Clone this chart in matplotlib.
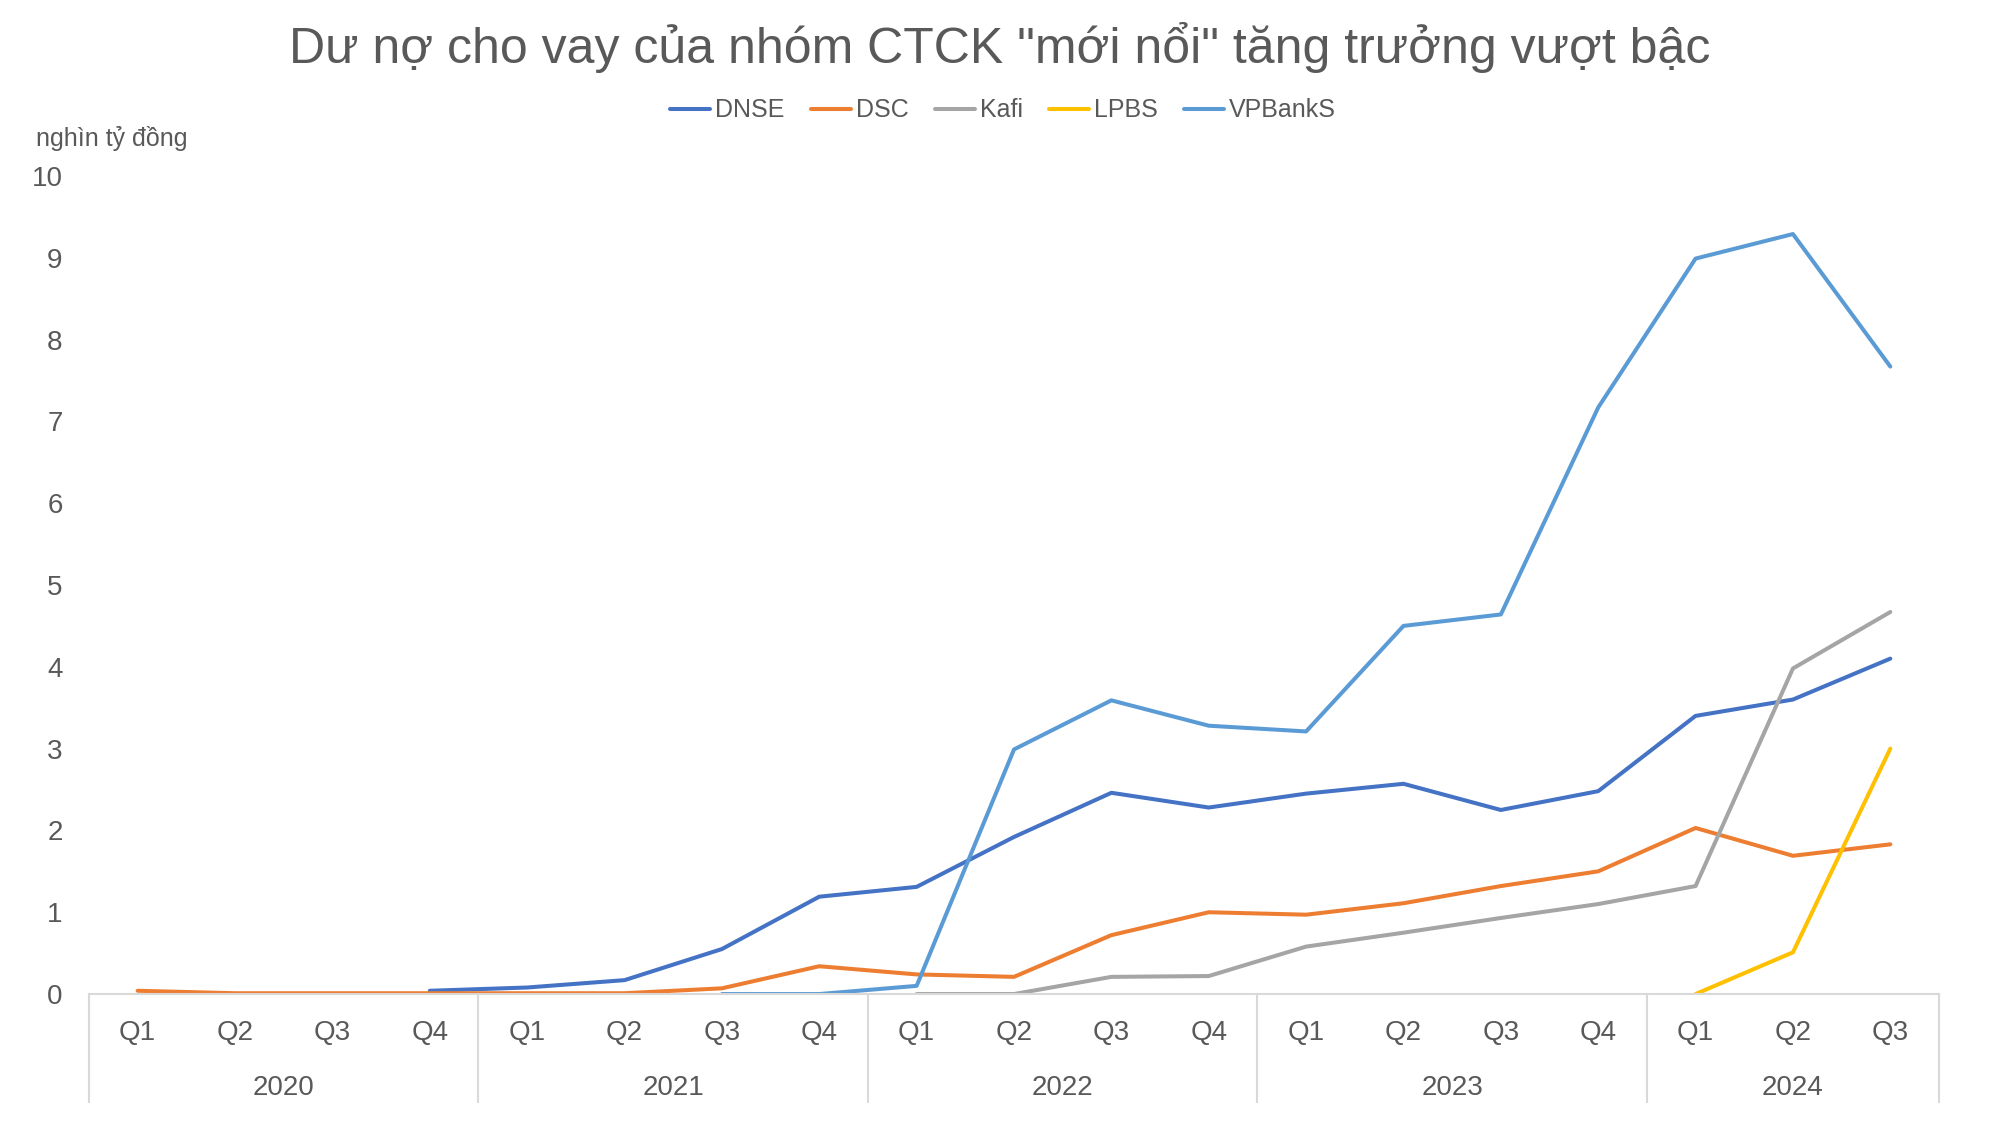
import numpy as np
import matplotlib
matplotlib.use("Agg")
from matplotlib import pyplot as plt

# Chart data (nghin ty dong)
years = ["2020", "2021", "2022", "2023", "2024"]
quarters_per_year = [4, 4, 4, 4, 3]
quarter_labels = ["Q1", "Q2", "Q3", "Q4"] * 4 + ["Q1", "Q2", "Q3"]

nan = np.nan
dnse = [nan, nan, nan, 0.04, 0.08, 0.17, 0.55, 1.19, 1.31, 1.92,
        2.46, 2.28, 2.45, 2.57, 2.25, 2.48, 3.40, 3.60, 4.10]
dsc = [0.04, 0.01, 0.01, 0.01, 0.01, 0.01, 0.07, 0.34, 0.24, 0.21,
       0.72, 1.00, 0.97, 1.11, 1.32, 1.50, 2.03, 1.69, 1.83]
kafi = [nan, nan, nan, nan, nan, nan, nan, nan, 0.0, 0.0,
        0.21, 0.22, 0.58, 0.75, 0.93, 1.10, 1.32, 3.98, 4.67]
lpbs = [nan] * 16 + [0.0, 0.51, 3.00]
vpbanks = [nan, nan, nan, nan, nan, nan, 0.0, 0.0, 0.10, 2.99,
           3.59, 3.28, 3.21, 4.50, 4.64, 7.17, 8.99, 9.29, 7.67]

series_names = ["DNSE", "DSC", "Kafi", "LPBS", "VPBankS"]
series_values = [dnse, dsc, kafi, lpbs, vpbanks]
series_colors = ["#4472C4", "#ED7D31", "#A5A5A5", "#FFC000", "#5B9BD5"]

text_color = "#595959"
line_gray = "#D9D9D9"

plt.rcParams["font.family"] = ["Liberation Sans", "DejaVu Sans"]

fig = plt.figure(figsize=(20, 11.25), dpi=100)
ax = fig.add_axes([0.0445, 0.1164, 0.925, 0.7272])

x = np.arange(len(quarter_labels))
for name, vals, col in zip(series_names, series_values, series_colors):
    ax.plot(x, vals, color=col, lw=2.9, label=name,
            solid_capstyle="round", solid_joinstyle="round")

# axes look (Excel style)
ax.set_xlim(-0.5, len(quarter_labels) - 0.5)
ax.set_ylim(0, 10)
ax.set_yticks(range(0, 11))
for side in ["left", "right", "top"]:
    ax.spines[side].set_visible(False)
ax.spines["bottom"].set_color(line_gray)
ax.spines["bottom"].set_linewidth(1.5)
ax.tick_params(axis="y", length=0, pad=19, labelsize=20, labelcolor=text_color)
ax.set_xticks(x)
ax.set_xticklabels(quarter_labels)
ax.tick_params(axis="x", length=0, pad=19, labelsize=20, labelcolor=text_color)

# year groups under the quarter labels, with separator lines
trans = ax.get_xaxis_transform()
edge = -0.5
for year, n in zip(years, quarters_per_year):
    ax.plot([edge, edge], [0, -0.132], transform=trans, color=line_gray,
            lw=1.5, clip_on=False)
    ax.text(edge + n / 2, -0.1235, year, transform=trans, ha="center",
            va="baseline", fontsize=20, color=text_color)
    edge += n
ax.plot([edge, edge], [0, -0.132], transform=trans, color=line_gray,
        lw=1.5, clip_on=False)

# title, unit label and legend
fig.text(0.5, 0.944, 'Dư nợ cho vay của nhóm CTCK "mới nổi" tăng trưởng vượt bậc',
         ha="center", va="baseline", fontsize=36, color=text_color)
fig.text(0.018, 0.870, "nghìn tỷ đồng", ha="left", va="baseline",
         fontsize=18, color=text_color)
fig.legend(loc="center", bbox_to_anchor=(0.5015, 0.902), ncol=5, frameon=False,
           fontsize=18, labelcolor=text_color, handlelength=1.6,
           handletextpad=0.2, columnspacing=1.05)

plt.savefig("out.png", dpi=100)
